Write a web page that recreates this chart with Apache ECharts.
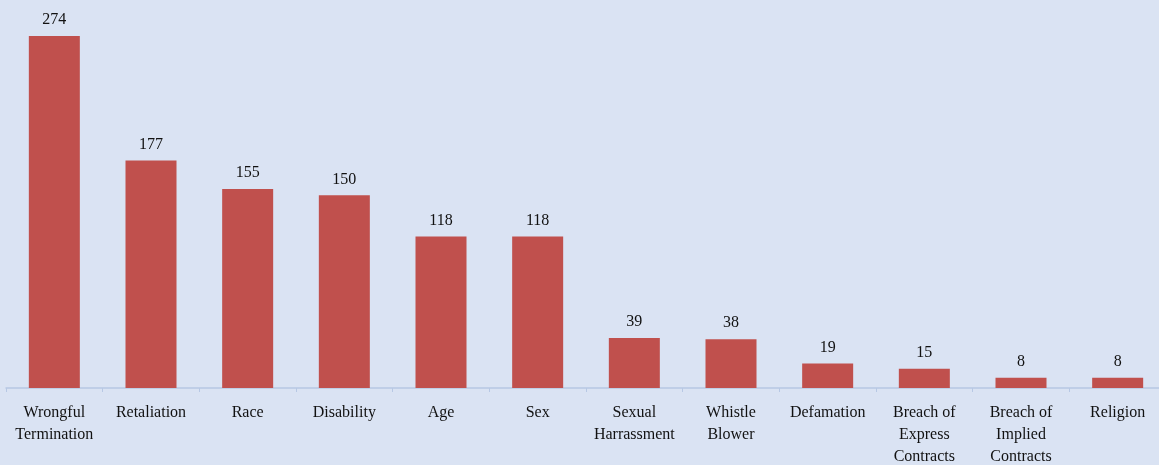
<!DOCTYPE html>
<html>
<head>
<meta charset="utf-8">
<script src="https://cdn.jsdelivr.net/npm/echarts@6/dist/echarts.min.js"></script>
<style>
  html, body { margin: 0; padding: 0; background: #DAE3F3; overflow: hidden; }
  #wrap { position: relative; width: 1159px; height: 465px; overflow: hidden; }
  /* the plot runs a few pixels past the right edge of the frame */
  #chart { position: absolute; left: 0; top: 0; width: 1166px; height: 465px; }
</style>
</head>
<body>
<div id="wrap"><div id="chart"></div></div>
<script>
// Claim types (axis labels, wrapped as printed)
const categories = [
  'Wrongful\nTermination', 'Retaliation', 'Race', 'Disability', 'Age', 'Sex',
  'Sexual\nHarrassment', 'Whistle\nBlower', 'Defamation',
  'Breach of\nExpress\nContracts', 'Breach of\nImplied\nContracts', 'Religion'
];
// Number of claims per type
const claimCounts = [274, 177, 155, 150, 118, 118, 39, 38, 19, 15, 8, 8];

const chart = echarts.init(document.getElementById('chart'), null, { renderer: 'canvas' });
const serif = '"Liberation Serif", "Times New Roman", serif';

chart.setOption({
  backgroundColor: '#DAE3F3',
  animation: false,
  grid: { left: 6, right: 0, top: 36, bottom: 77, containLabel: false, outerBoundsMode: 'none' },
  xAxis: {
    type: 'category',
    data: categories,
    axisLine: { show: true, lineStyle: { color: '#B7C8E4', width: 1.5 } },
    axisTick: { show: true, length: 4, lineStyle: { color: '#B7C8E4' } },
    axisLabel: {
      interval: 0,
      margin: 14,
      color: '#111111',
      fontFamily: serif,
      fontSize: 16,
      lineHeight: 22
    }
  },
  yAxis: {
    type: 'value',
    min: 0,
    max: 274,
    show: false,
    splitLine: { show: false }
  },
  series: [{
    type: 'bar',
    data: claimCounts,
    barWidth: 51,
    itemStyle: { color: '#C0504D' },
    label: {
      show: true,
      position: 'top',
      distance: 8,
      color: '#111111',
      fontFamily: serif,
      fontSize: 16
    }
  }]
});
</script>
</body>
</html>
